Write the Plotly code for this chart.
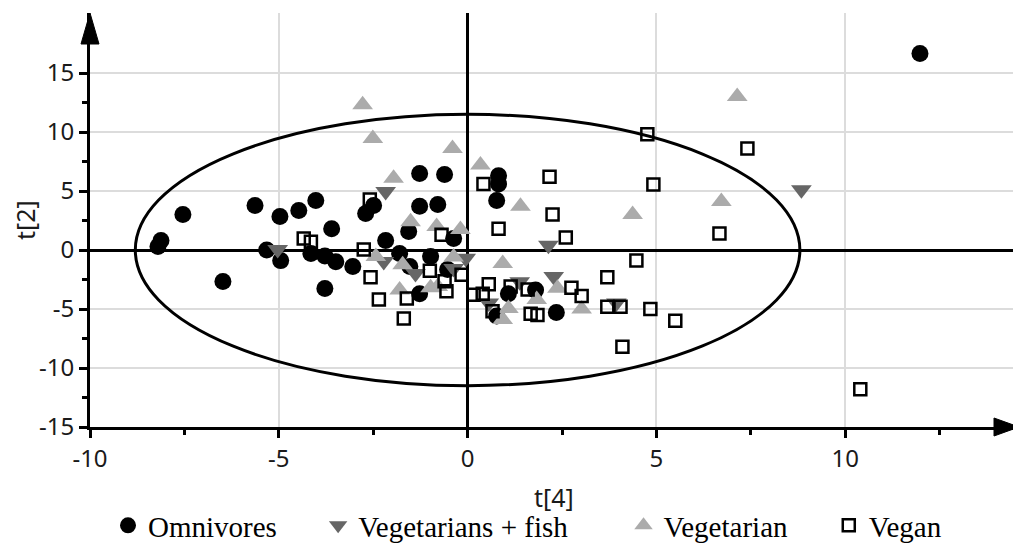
import plotly.graph_objects as go

# ---- data ----
omn_x = [11.98, -8.12, -8.2, -7.54, -6.48, -5.63, -4.97, -4.47, -4.02, -5.32, -4.95, -3.6, -4.15, -3.78,
         -3.49, -3.04, -3.78, -1.27, -0.61, -2.49, -2.7, -1.27, -0.79, -1.56, -2.17, -0.37, -1.8, -0.98,
         -1.53, -0.53, -1.27, 0.82, 0.82, 0.77, 1.08, 1.8, 0.77, 2.35]
omn_y = [16.65, 0.8, 0.3, 3.0, -2.67, 3.77, 2.84, 3.35, 4.2, 0.0, -0.9, 1.8, -0.3, -0.5,
         -1.0, -1.4, -3.26, 6.48, 6.4, 3.77, 3.1, 3.7, 3.86, 1.57, 0.8, 0.97, -0.3, -0.55,
         -1.4, -1.65, -3.7, 6.3, 5.6, 4.2, -3.7, -3.4, -5.6, -5.3]

fish_x = [8.84, -5.03, -2.17, -2.22, -1.38, -0.37, -0.05, 2.14, 1.38, 2.28, 0.56, 3.94]
fish_y = [5.1, 0.04, 4.96, -0.97, -2.0, -1.57, -0.7, 0.4, -2.7, -2.25, -4.5, -4.5]

veg_x = [7.14, -2.78, -2.51, -0.4, 0.34, -1.96, -1.51, -0.82, -0.19, -2.43, -1.72, -0.37, -1.8, -0.98,
         -0.79, 1.4, 4.37, 0.93, 2.38, 1.83, 1.08, 0.93, 3.02, 6.72]
veg_y = [13.0, 12.3, 9.44, 8.6, 7.2, 6.07, 2.4, 2.0, 1.74, -0.55, -1.25, -0.6, -3.4, -3.2,
         -3.1, 3.7, 3.0, -1.15, -3.25, -4.2, -4.95, -5.9, -5.0, 4.1]

vegan_x = [10.4, 4.76, 7.41, 4.92, 6.67, 4.47, 3.7, 3.7, 4.05, 4.84, 5.5, 4.1, 0.42, 2.17, 2.25, 0.82,
           2.6, 0.56, 1.14, 1.59, 2.75, 3.02, 0.16, 0.4, 0.66, 1.67, 1.85, -2.59, -2.75, -0.69, -2.57,
           -1.0, -0.61, -0.16, -2.35, -1.61, -0.56, -1.69, -4.34, -4.15]
vegan_y = [-11.8, 9.8, 8.6, 5.55, 1.4, -0.9, -2.3, -4.8, -4.8, -5.0, -6.0, -8.2, 5.6, 6.2, 3.0, 1.8,
           1.05, -2.9, -3.1, -3.35, -3.2, -3.9, -3.8, -3.7, -5.2, -5.4, -5.5, 4.28, 0.04, 1.3, -2.3,
           -1.75, -2.65, -2.1, -4.2, -4.1, -3.5, -5.8, 0.97, 0.7]

series_names = ["Omnivores", "Vegetarians + fish", "Vegetarian", "Vegan"]

ellipse_a = 8.8
ellipse_b = 11.5

x_ticks = [-10, -5, 0, 5, 10]
x_ticktext = ["-10", "-5", "0", "5", "10"]
y_ticks = [-15, -10, -5, 0, 5, 10, 15]
y_ticktext = ["-15", "-10", "-5", "0", "5", "10", "15"]
x_minor = [-7.5, -2.5, 2.5, 7.5, 12.5]
y_minor = [-12.5, -7.5, -2.5, 2.5, 7.5, 12.5]

# ---- layout constants (page body has an 8px margin, so the figure is offset) ----
OFF = 8
W, H = 1021 - OFF, 544 - OFF
L, R, T, B = 90 - OFF, 3, 13 - OFF, 117
pw, ph = W - L - R, H - T - B


def fx(px):  # reference page pixel -> paper x
    return (px - OFF - L) / pw


def fy(py):  # reference page pixel -> paper y
    return (H - B - (py - OFF)) / ph


NB = "\u00a0"

fig = go.Figure()

fig.add_trace(go.Scatter(x=omn_x, y=omn_y, mode="markers", name=series_names[0] + NB * 5,
                         marker=dict(symbol="circle", size=17, color="black")))
fig.add_trace(go.Scatter(x=fish_x, y=fish_y, mode="markers", name=series_names[1] + NB * 7,
                         marker=dict(symbol="triangle-down", size=18, color="#666666")))
fig.add_trace(go.Scatter(x=veg_x, y=veg_y, mode="markers", name=series_names[2] + NB * 5,
                         marker=dict(symbol="triangle-up", size=18, color="#ababab")))
fig.add_trace(go.Scatter(x=vegan_x, y=vegan_y, mode="markers", name=series_names[3],
                         marker=dict(symbol="square-open", size=12, color="black",
                                     line=dict(width=2.5, color="black"))))

# ellipse
fig.add_shape(type="circle", xref="x", yref="y", x0=-ellipse_a, x1=ellipse_a,
              y0=-ellipse_b, y1=ellipse_b, line=dict(color="black", width=3), layer="above")

# x arrow
half = 9
yb = 427
fig.add_shape(type="path", xref="paper", yref="paper",
              path=f"M {fx(994)} {fy(yb - half)} L {fx(1019)} {fy(yb)} L {fx(994)} {fy(yb + half)} Z",
              fillcolor="black", line=dict(color="black", width=1), layer="above")
# y arrow
xl = 90
fig.add_shape(type="path", xref="paper", yref="paper",
              path=f"M {fx(xl - half)} {fy(44)} L {fx(xl)} {fy(13)} L {fx(xl + half)} {fy(44)} Z",
              fillcolor="black", line=dict(color="black", width=1), layer="above")

# axis titles
fig.add_annotation(x=0.5, y=fy(497), xref="paper", yref="paper", text="t[4]",
                   xanchor="center", yanchor="middle",
                   showarrow=False, font=dict(family="Noto Sans", size=25, color="#1a1a1a"))
fig.add_annotation(x=fx(25), y=0.5, xref="paper", yref="paper", text="t[2]", textangle=-90,
                   xanchor="center", yanchor="middle",
                   showarrow=False, font=dict(family="Noto Sans", size=25, color="#1a1a1a"))

tickfont = dict(family="Noto Sans", size=24, color="#1a1a1a")
fig.update_xaxes(range=[-10, -10 + pw / 37.76], tickvals=x_ticks, ticktext=x_ticktext,
                 ticks="outside", ticklen=8, automargin=False,
                 tickwidth=3, tickcolor="black", showline=True, linewidth=3, linecolor="black",
                 showgrid=True, gridcolor="#dcdcdc", gridwidth=2,
                 zeroline=True, zerolinecolor="black", zerolinewidth=3,
                 minor=dict(tickvals=x_minor, ticks="outside", ticklen=5, tickwidth=3,
                            tickcolor="black", showgrid=False),
                 tickfont=tickfont)
fig.update_yaxes(range=[-15, -15 + ph / 11.8], tickvals=y_ticks, ticktext=y_ticktext,
                 ticks="outside", ticklen=8, automargin=False,
                 tickwidth=3, tickcolor="black", showline=True, linewidth=3, linecolor="black",
                 showgrid=True, gridcolor="#dcdcdc", gridwidth=2,
                 zeroline=True, zerolinecolor="black", zerolinewidth=3,
                 minor=dict(tickvals=y_minor, ticks="outside", ticklen=5, tickwidth=3,
                            tickcolor="black", showgrid=False),
                 tickfont=tickfont)

fig.update_layout(width=W, height=H, margin=dict(l=L, r=R, t=T, b=B, autoexpand=False),
                  plot_bgcolor="white", paper_bgcolor="white",
                  showlegend=True,
                  legend=dict(orientation="h", x=fx(108), xanchor="left",
                              y=fy(551), yanchor="bottom",
                              font=dict(family="Liberation Serif", size=29, color="black"),
                              itemsizing="trace", bgcolor="rgba(0,0,0,0)"))

fig.write_html("out.html")
